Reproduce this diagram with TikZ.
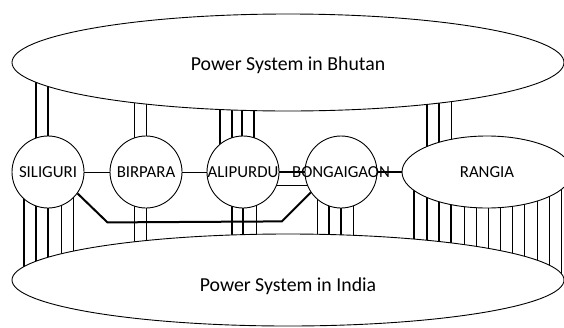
\documentclass[tikz,border=0pt]{standalone}
\usepackage{fontspec}
\setmainfont{Carlito}
\usetikzlibrary{shapes.geometric,backgrounds,calc}

% station label that does not widen its circle
\newcommand\stn[1]{\makebox[0pt]{#1}}

\begin{document}
\begin{tikzpicture}[x=1pt,y=-1pt,
  thinline/.style={line width=0.9pt},
  thickline/.style={line width=2pt},
  system/.style={ellipse,draw,line width=0.9pt,fill=white,inner sep=0pt,
    font=\fontsize{19.8}{22}\selectfont,text depth=0pt},
  station/.style={circle,draw,line width=0.9pt,fill=white,inner sep=0pt,
    minimum size=72pt,font=\fontsize{16.8}{19}\selectfont,
    text height=10.8pt,text depth=0pt},
]
\useasboundingbox (0,0) rectangle (564,327);
\clip (0,0) rectangle (564,327);

% the two power systems
\node[system,minimum width=552pt,minimum height=97pt,text height=16.4pt]
  (bhutan) at (288,62.5) {Power System in Bhutan};
\node[system,minimum width=552pt,minimum height=92pt,text height=22pt]
  (india) at (288,280) {Power System in India};

% substations
\node[station] (siliguri)   at (48,172)  {\stn{SILIGURI}};
\node[station] (birpara)    at (146,172) {\stn{BIRPARA}};
\node[station] (alipurdu)   at (243,172) {\stn{ALIPURDU}};
\node[station] (bongaigaon) at (341,172) {\stn{BONGAIGAON}};
\node[station,ellipse,minimum width=170pt,minimum height=72pt]
  (rangia) at (487,172) {RANGIA};

\begin{scope}[on background layer]
  % lines up to Bhutan
  \foreach \n/\dx in {siliguri/-12, siliguri/0,
      alipurdu/-23, alipurdu/-11, alipurdu/-1, alipurdu/11,
      rangia/-60, rangia/-48}
    \draw[thickline] ([xshift=\dx pt]\n.center) -- ([xshift=\dx pt]\n.center |- bhutan.center);
  \foreach \n/\dx in {birpara/-12, birpara/0, rangia/-36}
    \draw[thinline] ([xshift=\dx pt]\n.center) -- ([xshift=\dx pt]\n.center |- bhutan.center);

  % lines down to India
  \foreach \n/\dx in {siliguri/-24, siliguri/-12, siliguri/0,
      alipurdu/-11, alipurdu/0, bongaigaon/-12, bongaigaon/0,
      rangia/-73, rangia/-60, rangia/-48, rangia/-36}
    \draw[thickline] ([xshift=\dx pt]\n.center) -- ([xshift=\dx pt]\n.center |- india.center);
  \foreach \n/\dx in {siliguri/13, siliguri/25, birpara/-12, birpara/0,
      alipurdu/13, bongaigaon/-24, bongaigaon/12,
      rangia/-23, rangia/-11, rangia/1, rangia/13, rangia/25,
      rangia/37, rangia/50, rangia/62, rangia/74}
    \draw[thinline] ([xshift=\dx pt]\n.center) -- ([xshift=\dx pt]\n.center |- india.center);

  % ties between substations
  \draw[thinline] (siliguri) -- (birpara);
  \draw[thinline] (birpara) -- (alipurdu);
  \draw[thickline] (alipurdu) -- (bongaigaon);
  \draw[thinline] ([yshift=-13pt]alipurdu.center) -- ([yshift=-13pt]bongaigaon.center);
  \draw[thickline] (bongaigaon) -- (rangia);
  \draw[thickline] (siliguri.-36) -- ++(30,29)
    -- ($(bongaigaon.-146)+(-29,29)$) -- (bongaigaon.-146);
\end{scope}
\end{tikzpicture}
\end{document}
